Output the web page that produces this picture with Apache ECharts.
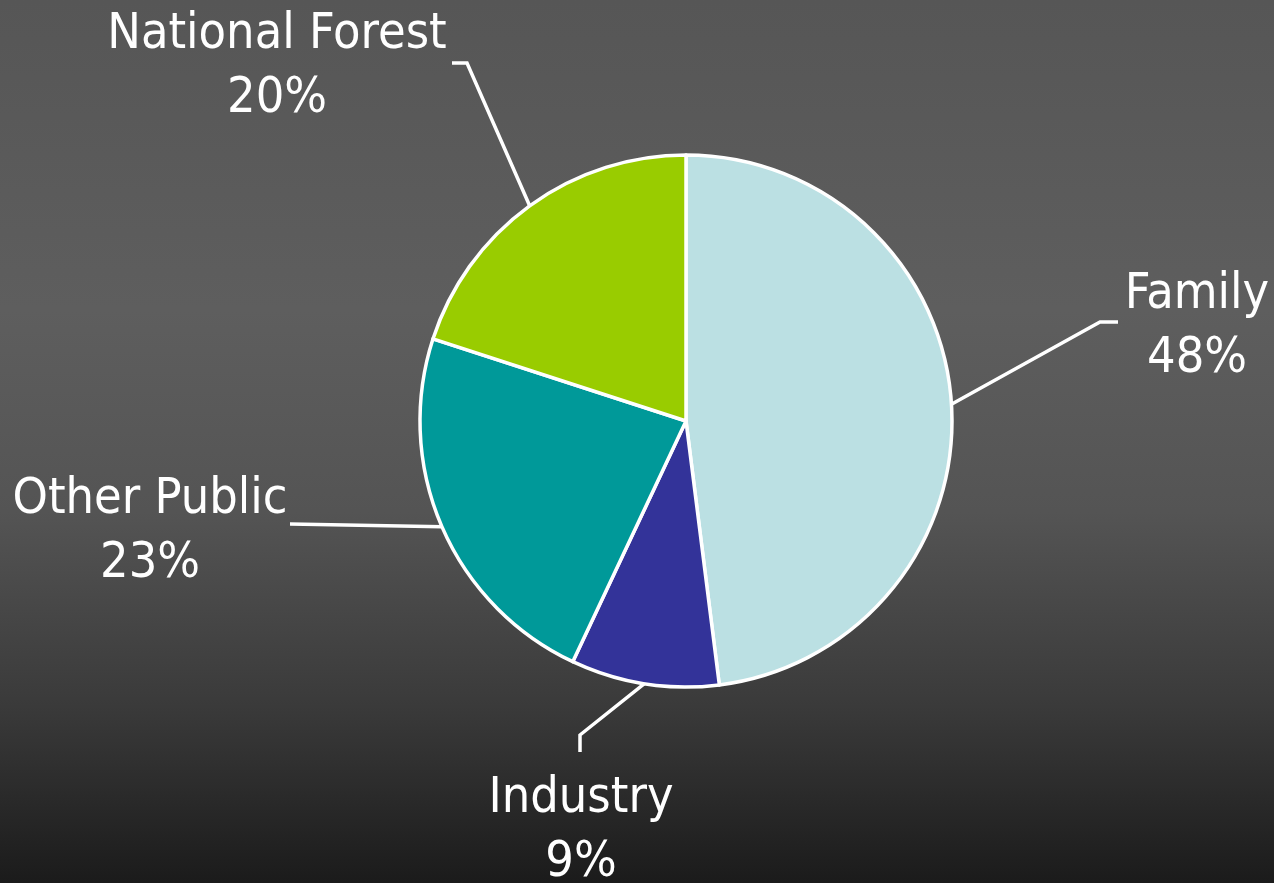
<!doctype html>
<html lang="en">
<head>
    <meta charset="utf-8"/>
    <title>Forest ownership</title>
    <script src="https://cdn.jsdelivr.net/npm/echarts@6/dist/echarts.min.js"></script>
    <style>
        html, body { margin: 0; padding: 0; }
        #chart { width: 1274px; height: 883px; }
    </style>
</head>
<body>
<div id="chart"></div>
<script>
    // data
    const owners = ['Family', 'Industry', 'Other Public', 'National Forest'];
    const shares = [48, 9, 23, 20];
    const sliceColors = ['#BBE0E3', '#333399', '#009999', '#99CC00'];

    // pie geometry (px)
    const pieCenter = [686, 421];
    const pieRadius = 266;

    // label anchor + leader line bends, per slice
    const labelSpots = [
        {x: 1197, y: 327, bends: [[1100, 322], [1118, 322]]},
        {x: 581, y: 831, bends: [[580, 735], [580, 752]]},
        {x: 150, y: 532, bends: [[290, 524]]},
        {x: 277, y: 67, bends: [[467, 63], [452, 63]]}
    ];

    const total = shares.reduce((a, b) => a + b, 0);

    function edgePoint(i) {
        let before = 0;
        for (let k = 0; k < i; k++) before += shares[k];
        const mid = (before + shares[i] / 2) / total * 2 * Math.PI;
        return [pieCenter[0] + pieRadius * Math.sin(mid), pieCenter[1] - pieRadius * Math.cos(mid)];
    }

    const chart = echarts.init(document.getElementById('chart'));

    const option = {
        backgroundColor: {
            type: 'linear', x: 0, y: 0, x2: 0, y2: 1,
            colorStops: [
                {offset: 0, color: '#565656'},
                {offset: 0.35, color: '#5e5e5e'},
                {offset: 0.58, color: '#545454'},
                {offset: 0.8, color: '#3a3a3a'},
                {offset: 1, color: '#1b1b1b'}
            ]
        },
        animation: false,
        series: [
            {
                type: 'pie',
                center: pieCenter,
                radius: pieRadius,
                startAngle: 90,
                clockwise: true,
                avoidLabelOverlap: false,
                data: owners.map((name, i) => ({
                    name: name,
                    value: shares[i],
                    itemStyle: {color: sliceColors[i]}
                })),
                itemStyle: {
                    borderColor: '#ffffff',
                    borderWidth: 3.5
                },
                label: {
                    show: true,
                    position: 'outside',
                    formatter: '{b}\n{c}%',
                    color: '#ffffff',
                    fontFamily: '"DejaVu Sans Condensed", "DejaVu Sans", sans-serif',
                    fontSize: 50,
                    lineHeight: 64,
                    align: 'center'
                },
                labelLine: {
                    show: true,
                    smooth: false,
                    lineStyle: {color: '#ffffff', width: 3.5}
                },
                labelLayout: function (params) {
                    const i = params.dataIndex;
                    const spot = labelSpots[i];
                    return {
                        x: spot.x,
                        y: spot.y,
                        align: 'center',
                        verticalAlign: 'middle',
                        labelLinePoints: [edgePoint(i)].concat(spot.bends)
                    };
                },
                emphasis: {disabled: true}
            }
        ]
    };
    chart.setOption(option);

    window.onresize = function () {
        chart.resize();
    };
</script>
</body>
</html>
